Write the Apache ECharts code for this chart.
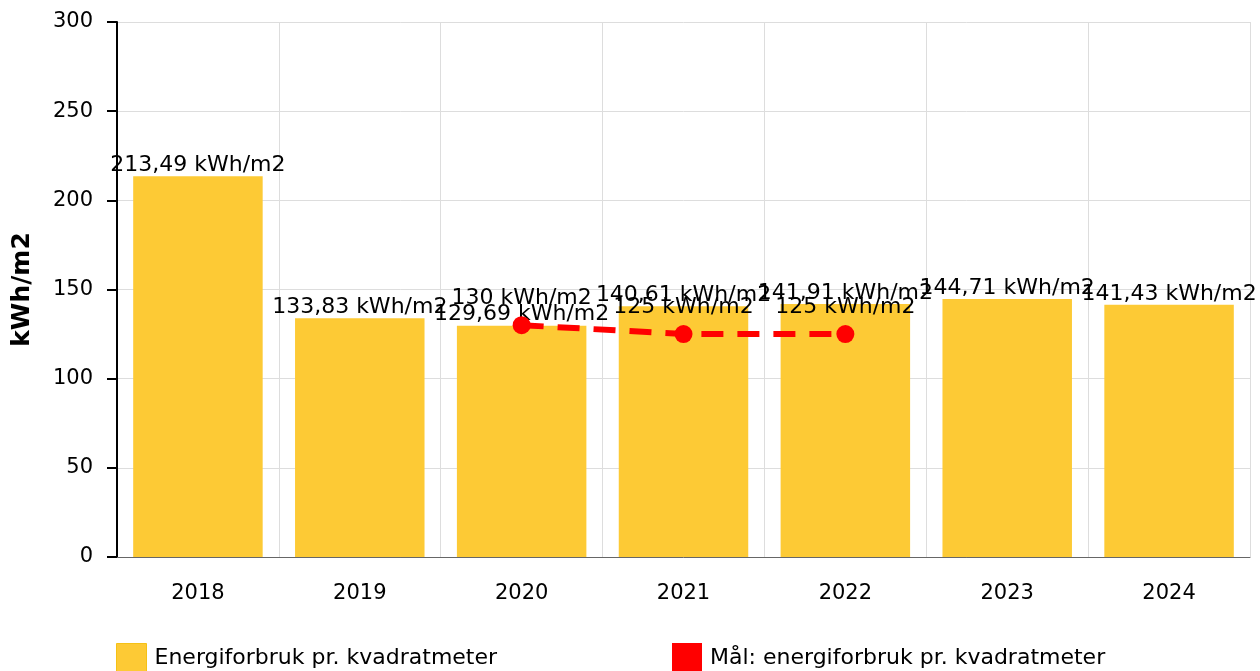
<!DOCTYPE html>
<html>
<head>
<meta charset="utf-8">
<script src="https://cdn.jsdelivr.net/npm/echarts@6/dist/echarts.min.js"></script>
<style>
  html, body { margin: 0; padding: 0; background: #fff; }
  #chart { width: 1260px; height: 671px; }
</style>
</head>
<body>
<div id="chart"></div>
<script>
// år og verdier lest av figuren
const years = ['2018', '2019', '2020', '2021', '2022', '2023', '2024'];
const energyValues = [213.49, 133.83, 129.69, 140.61, 141.91, 144.71, 141.43];
const targetValues = [null, null, 130, 125, 125, null, null];
const yTicks = [0, 50, 100, 150, 200, 250, 300];

const FONT = 'DejaVu Sans';
const fmt = (v) => String(v).replace('.', ',') + ' kWh/m2';

const chart = echarts.init(document.getElementById('chart'));

chart.setOption({
  animation: false,
  textStyle: { fontFamily: FONT },
  grid: { left: 117, right: 10, top: 22, bottom: 114 },
  legend: [
    {
      left: 111,
      top: 638,
      itemWidth: 30,
      itemHeight: 30,
      textStyle: { fontSize: 22, color: '#000', fontFamily: FONT, padding: [0, 0, 0, 3] },
      data: [{ name: 'Energiforbruk pr. kvadratmeter', icon: 'rect', itemStyle: { borderColor: '#f5c116', borderWidth: 1 } }]
    },
    {
      left: 667,
      top: 638,
      itemWidth: 30,
      itemHeight: 30,
      textStyle: { fontSize: 22, color: '#000', fontFamily: FONT, padding: [0, 0, 0, 3] },
      data: [{ name: 'Mål: energiforbruk pr. kvadratmeter', icon: 'rect' }]
    }
  ],
  xAxis: {
    type: 'category',
    data: years,
    axisLine: { lineStyle: { color: '#666', width: 1 } },
    axisTick: { alignWithLabel: true, length: 9, lineStyle: { color: '#bbb', width: 2 } },
    axisLabel: { fontSize: 21, color: '#000', margin: 26, fontFamily: FONT },
    splitLine: { show: true, lineStyle: { color: '#ddd', width: 1 } }
  },
  yAxis: {
    type: 'value',
    min: yTicks[0],
    max: yTicks[yTicks.length - 1],
    interval: 50,
    name: 'kWh/m2',
    nameLocation: 'middle',
    nameGap: 82,
    nameTextStyle: { fontSize: 25, fontWeight: 'bold', color: '#000', fontFamily: FONT },
    axisLine: { show: true, lineStyle: { color: '#000', width: 2 } },
    axisTick: { show: true, length: 10, lineStyle: { color: '#000', width: 2 } },
    axisLabel: { fontSize: 21, color: '#000', margin: 24, fontFamily: FONT },
    splitLine: { show: true, lineStyle: { color: '#ddd', width: 1 } }
  },
  series: [
    {
      name: 'Energiforbruk pr. kvadratmeter',
      type: 'bar',
      data: energyValues,
      barCategoryGap: '20%',
      itemStyle: { color: '#fdca35' },
      label: {
        show: true,
        position: 'top',
        distance: 0,
        fontSize: 22,
        color: '#000',
        fontFamily: FONT,
        formatter: (p) => fmt(p.value)
      }
    },
    {
      name: 'Mål: energiforbruk pr. kvadratmeter',
      type: 'line',
      data: targetValues,
      connectNulls: false,
      symbol: 'circle',
      symbolSize: 18,
      itemStyle: { color: '#ff0000' },
      lineStyle: { color: '#ff0000', width: 6, type: [22, 14] },
      z: 3,
      label: {
        show: true,
        position: 'top',
        distance: 7,
        fontSize: 22,
        color: '#000',
        fontFamily: FONT,
        formatter: (p) => fmt(p.value)
      }
    }
  ]
});
</script>
</body>
</html>
